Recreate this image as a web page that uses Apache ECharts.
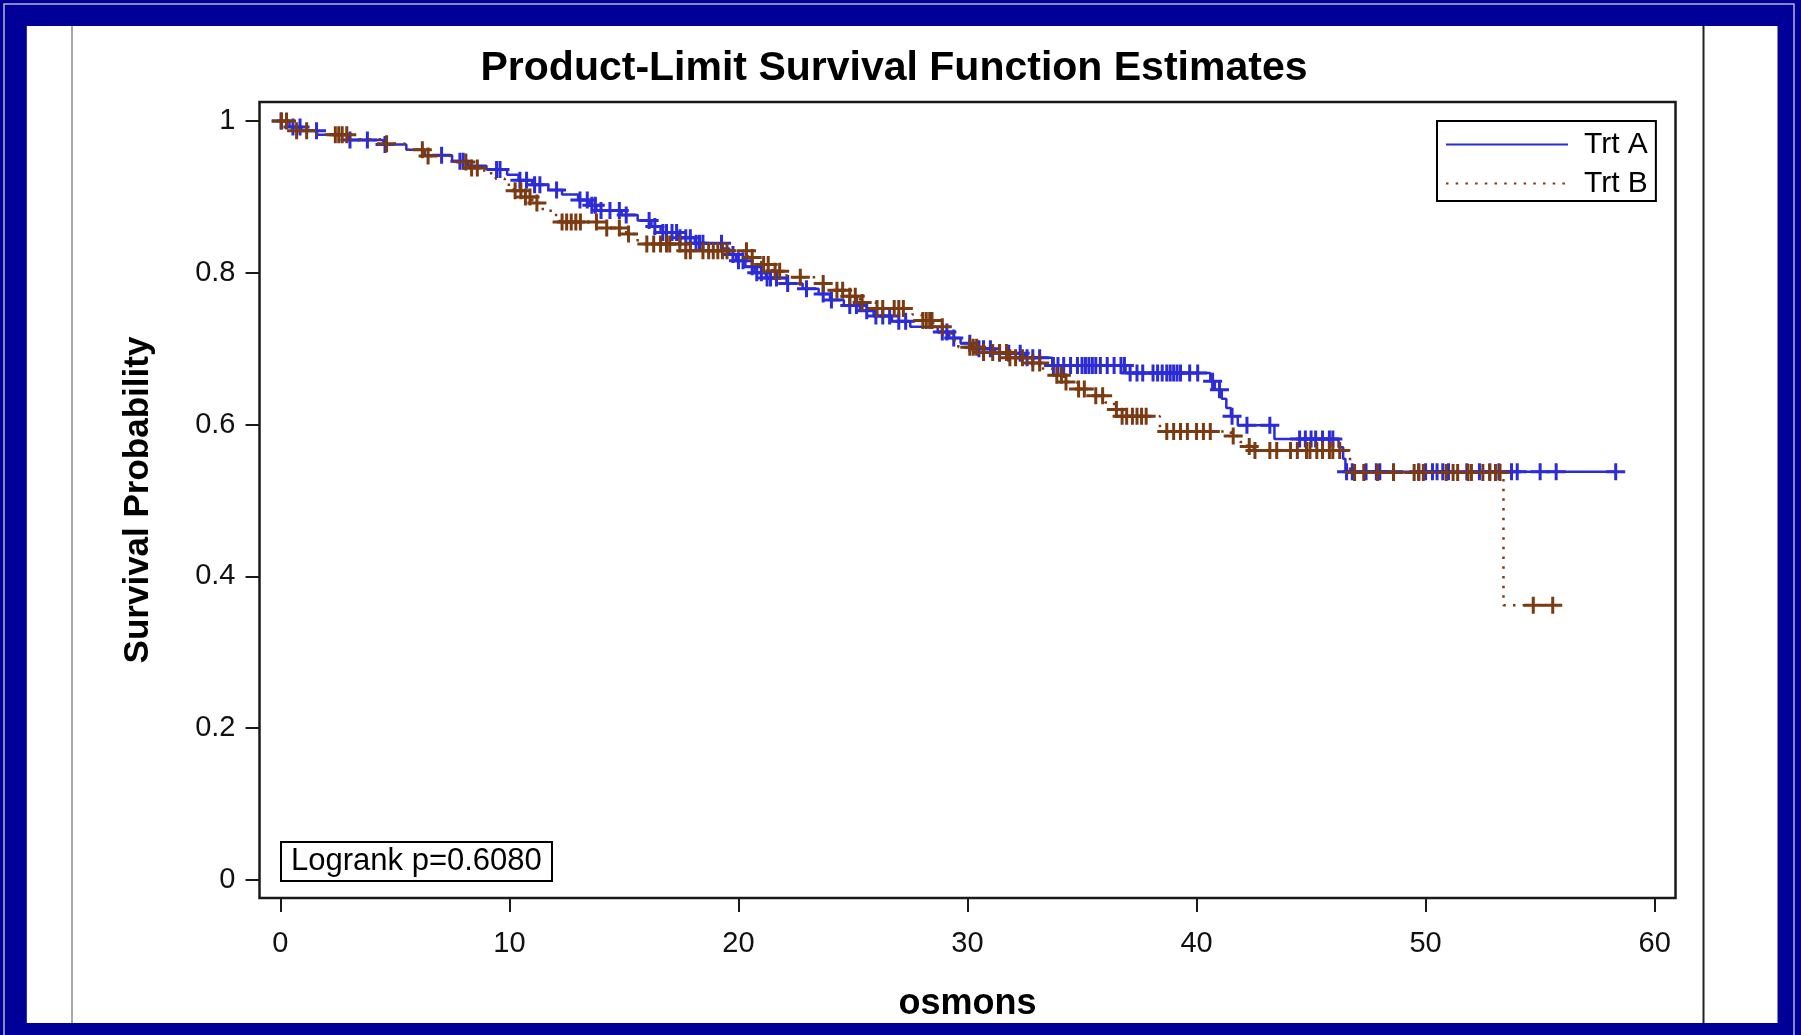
<!DOCTYPE html>
<html>
<head>
<meta charset="utf-8">
<script src="https://cdn.jsdelivr.net/npm/echarts@6/dist/echarts.min.js"></script>
<style>
  html, body { margin: 0; padding: 0; background: #000099; }
  #chart { width: 1801px; height: 1035px; }
</style>
</head>
<body>
<div id="chart"></div>
<script>
// Kaplan-Meier estimates: event times and survival after each event
const timesA = [0.4, 0.9, 1.6, 3.0, 4.5, 5.5, 6.3, 7.5, 8.2, 9.0, 9.9, 10.4, 11.0, 11.7, 12.3, 13.0, 13.5, 13.8, 14.9, 15.6,
  16.2, 16.6, 17.4, 18.1, 19.3, 19.6, 19.9, 20.3, 20.7, 21.2, 22.1, 22.8, 23.5, 24.0, 24.6, 25.3, 25.9, 26.7, 27.5, 28.7,
  29.2, 29.7, 30.2, 31.2, 32.5, 33.7, 36.9, 40.6, 40.8, 41.1, 41.3, 41.5, 41.8, 43.4, 46.2, 46.4, 46.5];
const survA = [0.992, 0.987, 0.982, 0.975, 0.969, 0.962, 0.955, 0.947, 0.941, 0.936, 0.929, 0.922, 0.916, 0.909, 0.903, 0.896, 0.889, 0.882, 0.876, 0.869,
  0.861, 0.853, 0.846, 0.839, 0.832, 0.824, 0.816, 0.808, 0.800, 0.793, 0.786, 0.779, 0.772, 0.764, 0.757, 0.750, 0.743, 0.736, 0.729, 0.722,
  0.714, 0.707, 0.700, 0.694, 0.688, 0.678, 0.668, 0.657, 0.646, 0.634, 0.622, 0.611, 0.599, 0.581, 0.570, 0.555, 0.538];
const censorTimesA = [0.03, 0.55, 0.86, 1.58, 3.04, 3.8, 4.57, 7.04, 7.84, 7.98, 9.44, 9.59, 10.46, 10.75, 11.1, 11.33, 12.06, 13.08, 13.4, 13.6,
  13.75, 14.0, 14.39, 14.8, 15.1, 16.1, 16.35, 16.7, 16.86, 17.1, 17.3, 17.45, 17.7, 17.9, 18.15, 18.3, 18.45, 19.26, 19.76, 20.0,
  20.2, 20.6, 20.8, 21.0, 21.25, 21.4, 21.66, 22.15, 22.97, 23.7, 24.06, 24.86, 25.15, 25.6, 26.0, 26.3, 26.6, 27.0, 27.3, 28.9,
  29.1, 29.4, 30.1, 30.5, 30.7, 31.0, 31.4, 31.8, 32.3, 32.6, 32.85, 33.15, 33.75, 33.95, 34.2, 34.5, 34.8, 35.0, 35.15, 35.3,
  35.45, 35.6, 35.8, 36.1, 36.4, 36.7, 36.85, 37.1, 37.4, 37.65, 38.1, 38.3, 38.5, 38.7, 38.85, 39.0, 39.15, 39.3, 39.7, 40.05,
  40.7, 41.0, 41.55, 42.2, 43.2, 44.5, 44.75, 45.0, 45.2, 45.5, 45.8, 45.95, 46.55, 46.8, 47.4, 47.85, 48.0, 48.6, 49.7, 50.0,
  50.3, 50.5, 50.75, 51.0, 51.8, 52.35, 52.8, 53.2, 53.75, 54.0, 55.0, 55.7, 58.3];

const timesB = [0.3, 0.7, 1.5, 3.0, 4.4, 5.5, 6.3, 7.6, 8.3, 8.9, 9.4, 9.8, 10.2, 10.6, 11.0, 11.4, 11.8, 12.2, 14.0, 15.1,
  15.6, 17.6, 20.4, 21.0, 21.5, 22.1, 23.4, 23.9, 24.6, 25.3, 26.0, 27.6, 28.0, 28.5, 29.2, 29.4, 29.6, 30.6, 31.8, 32.7,
  33.2, 33.7, 34.2, 34.8, 35.5, 36.0, 36.4, 36.7, 38.4, 41.5, 41.9, 42.2, 42.5, 46.7, 53.4];
const survB = [0.993, 0.987, 0.982, 0.976, 0.970, 0.962, 0.954, 0.946, 0.938, 0.931, 0.924, 0.916, 0.908, 0.900, 0.892, 0.884, 0.876, 0.867, 0.859, 0.851,
  0.838, 0.829, 0.820, 0.811, 0.802, 0.794, 0.786, 0.777, 0.769, 0.761, 0.753, 0.745, 0.737, 0.729, 0.720, 0.711, 0.702, 0.695, 0.688, 0.681,
  0.674, 0.665, 0.656, 0.647, 0.638, 0.629, 0.620, 0.611, 0.591, 0.585, 0.577, 0.571, 0.566, 0.537, 0.362];
const censorTimesB = [0.05, 0.27, 0.71, 1.15, 2.4, 2.55, 2.7, 2.9, 4.64, 6.2, 6.45, 8.1, 8.35, 8.6, 10.25, 10.5, 10.7, 10.9, 11.2, 12.3,
  12.5, 12.7, 12.9, 13.1, 13.8, 14.25, 14.8, 15.2, 16.0, 16.3, 16.6, 16.86, 17.0, 17.44, 17.7, 17.9, 18.45, 18.7, 18.9, 19.1,
  19.3, 19.5, 20.35, 20.6, 21.1, 21.3, 21.6, 21.8, 22.7, 23.7, 24.3, 24.55, 24.86, 25.1, 25.4, 26.05, 26.3, 26.8, 27.0, 27.2,
  28.05, 28.2, 28.35, 28.45, 28.9, 30.1, 30.25, 30.4, 30.7, 31.1, 31.4, 31.7, 31.85, 32.1, 32.4, 32.85, 33.15, 33.9, 34.1, 34.3,
  34.85, 35.1, 35.6, 35.9, 36.5, 36.75, 36.95, 37.2, 37.4, 37.6, 37.8, 38.7, 39.0, 39.3, 39.6, 40.0, 40.3, 40.6, 41.6, 42.3,
  42.55, 43.2, 43.5, 44.1, 44.4, 44.8, 44.95, 45.25, 45.5, 45.8, 45.95, 46.25, 46.9, 47.3, 47.9, 48.6, 49.5, 49.7, 49.9, 50.9,
  51.2, 51.4, 51.85, 52.0, 52.5, 52.8, 53.05, 53.25, 54.7, 55.55];

const groupNames = ['Trt A', 'Trt B'];
const xTicks = [0, 10, 20, 30, 40, 50, 60];
const yTicks = [0, 0.2, 0.4, 0.6, 0.8, 1];
const chartTitle = 'Product-Limit Survival Function Estimates';
const xLabel = 'osmons';
const yLabel = 'Survival Probability';
const logrankText = 'Logrank p=0.6080';

const colorA = '#2b2bd8';
const colorB = '#7a3a12';
const fontFamily = '"Liberation Sans", Arial, Helvetica, sans-serif';
const plusPath = 'path://M0,7H8V0H11V7H19V10H11V17H8V10H0Z';

// Step curve: starts at (0, 1), follows each event, and runs on to the last censored time
function stepPoints(times, surv, censorTimes) {
  const pts = [[0, 1]];
  times.forEach((t, i) => pts.push([t, surv[i]]));
  const lastCensor = Math.max.apply(null, censorTimes);
  if (lastCensor > times[times.length - 1]) pts.push([lastCensor, surv[surv.length - 1]]);
  return pts;
}

// Survival estimate in effect at time t
function survivalAt(times, surv, t) {
  let s = 1;
  for (let i = 0; i < times.length; i++) {
    if (times[i] <= t) s = surv[i]; else break;
  }
  return s;
}

function censorPoints(times, surv, censorTimes) {
  return censorTimes.map(t => [t, survivalAt(times, surv, t)]);
}

const chart = echarts.init(document.getElementById('chart'), null, { renderer: 'canvas' });

chart.setOption({
  animation: false,
  backgroundColor: '#000099',
  textStyle: { fontFamily: fontFamily },
  graphic: [
    { type: 'rect', z: -100, shape: { x: 4, y: 4, width: 1790, height: 1100 },
      style: { fill: null, stroke: '#b4b4cc', lineWidth: 1.5 } },
    { type: 'rect', z: -90, shape: { x: 26.8, y: 26, width: 1750.7, height: 997 },
      style: { fill: '#ffffff' } },
    { type: 'line', z: -80, shape: { x1: 72, y1: 26, x2: 72, y2: 1023 },
      style: { stroke: '#8c8c8c', lineWidth: 1.5 } },
    { type: 'line', z: -80, shape: { x1: 1703.5, y1: 26, x2: 1703.5, y2: 1023 },
      style: { stroke: '#222222', lineWidth: 2 } }
  ],
  title: [
    {
      text: chartTitle,
      left: 894, top: 48, padding: 0, textAlign: 'center',
      textStyle: { fontSize: 41, fontWeight: 'bold', color: '#000', fontFamily: fontFamily }
    },
    {
      text: logrankText,
      left: 281, top: 842, padding: [4, 10, 4, 10],
      borderColor: '#000', borderWidth: 2, backgroundColor: '#fff',
      textStyle: { fontSize: 31, fontWeight: 'normal', color: '#000', fontFamily: fontFamily }
    }
  ],
  legend: {
    data: groupNames,
    orient: 'vertical',
    left: 1437, top: 121,
    padding: [8.6, 8, 2.4, 8],
    itemWidth: 122, itemHeight: 30, itemGap: 9,
    borderColor: '#000', borderWidth: 2, backgroundColor: '#fff',
    itemStyle: { opacity: 0 },
    lineStyle: { width: 2 },
    textStyle: { fontSize: 30, color: '#000', fontFamily: fontFamily, padding: [0, 0, 0, 11] },
    selectedMode: false
  },
  grid: {
    left: 259.5, right: 125.5, top: 102, bottom: 137,
    show: true, borderColor: '#1a1a1a', borderWidth: 2.5, backgroundColor: 'transparent'
  },
  xAxis: {
    type: 'value', min: -0.91, max: 60.91,
    axisLine: { show: false, onZero: false },
    splitLine: { show: false },
    axisTick: { show: true, length: 14, customValues: xTicks, lineStyle: { color: '#1a1a1a', width: 2 } },
    axisLabel: { customValues: xTicks, fontSize: 29, color: '#111', margin: 31, fontFamily: fontFamily },
    name: xLabel, nameLocation: 'middle', nameGap: 88,
    nameTextStyle: { fontSize: 36, fontWeight: 'bold', color: '#000', fontFamily: fontFamily }
  },
  yAxis: {
    type: 'value', min: -0.0237, max: 1.025,
    axisLine: { show: false, onZero: false },
    splitLine: { show: false },
    axisTick: { show: true, length: 14, customValues: yTicks, lineStyle: { color: '#1a1a1a', width: 2 } },
    axisLabel: { customValues: yTicks, fontSize: 29, color: '#111', margin: 24, fontFamily: fontFamily },
    name: yLabel, nameLocation: 'middle', nameGap: 104,
    nameTextStyle: { fontSize: 35, fontWeight: 'bold', color: '#000', fontFamily: fontFamily }
  },
  series: [
    {
      name: groupNames[0], type: 'line', step: 'end', z: 2,
      data: stepPoints(timesA, survA, censorTimesA),
      symbol: 'none', showSymbol: false,
      lineStyle: { color: colorA, width: 2.5, type: 'solid' },
      itemStyle: { color: colorA }
    },
    {
      name: groupNames[0] + ' censored', type: 'scatter', z: 3,
      data: censorPoints(timesA, survA, censorTimesA),
      symbol: plusPath, symbolSize: [19, 17],
      itemStyle: { color: colorA, opacity: 1 }
    },
    {
      name: groupNames[1], type: 'line', step: 'end', z: 4,
      data: stepPoints(timesB, survB, censorTimesB),
      symbol: 'none', showSymbol: false,
      lineStyle: { color: colorB, width: 2.5, type: [2.5, 7.2] },
      itemStyle: { color: colorB }
    },
    {
      name: groupNames[1] + ' censored', type: 'scatter', z: 5,
      data: censorPoints(timesB, survB, censorTimesB),
      symbol: plusPath, symbolSize: [19, 17],
      itemStyle: { color: colorB, opacity: 1 }
    }
  ]
});
</script>
</body>
</html>
